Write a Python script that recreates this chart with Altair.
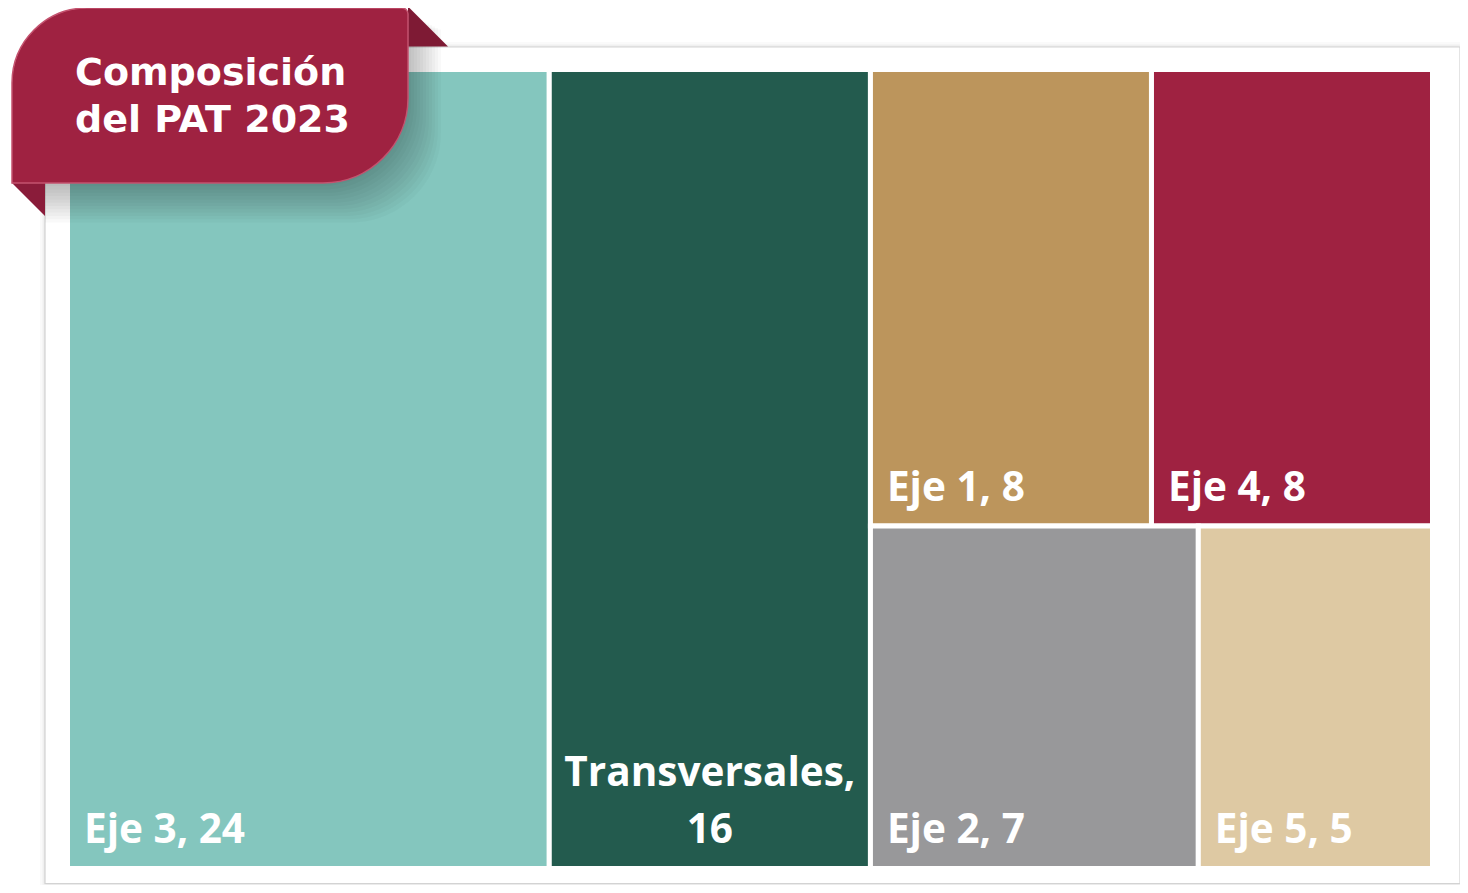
import altair as alt
import pandas as pd

# ---- data ----
names = ["Eje 3", "Transversales", "Eje 1", "Eje 4", "Eje 2", "Eje 5"]
values = [24, 16, 8, 8, 7, 5]
colors = ["#84C6BE", "#235B4E", "#BC955C", "#9F2241", "#98989A", "#DEC9A3"]
title_lines = ["Composición", "del PAT 2023"]

# treemap arrangement: columns -> rows -> items (indices into names)
columns = [[[0]], [[1]], [[2, 3], [4, 5]]]

total = sum(values)
X_RANGE = [59.5, 1424.5]
Y_RANGE = [61.5, 860.5]
px_per_unit = (X_RANGE[1] - X_RANGE[0]) / total

cells = []
cx = 0.0
for col in columns:
    col_sum = sum(values[i] for row in col for i in row)
    cy = 0.0
    for row in col:
        row_sum = sum(values[i] for i in row)
        h = row_sum / col_sum
        rx = cx
        for i in row:
            w = col_sum * values[i] / row_sum
            label = f"{names[i]}, {values[i]}"
            cell_px = w * px_per_unit
            wrap = len(label) * 0.55 * 41 > cell_px - 30
            cells.append(dict(name=names[i], value=values[i], color=colors[i],
                              x0=rx, x1=rx + w, xc=rx + w / 2, y0=cy, y1=cy + h,
                              label=label, line1=f"{names[i]},", line2=str(values[i]),
                              wrap=wrap))
            rx += w
        cy += h
    cx += col_sum

df = pd.DataFrame(cells)
one = pd.DataFrame({"a": [0]})

xs = alt.Scale(domain=[0, total], range=X_RANGE)
ys = alt.Scale(domain=[0, 1], range=Y_RANGE)

# ---- card ----
card_shadows = [
    alt.Chart(one).mark_rect(color="#000000", opacity=0.02, cornerRadius=3).encode(
        x=alt.value(37 - k), x2=alt.value(1452 + k), y=alt.value(39 - k), y2=alt.value(876 + k))
    for k in (1, 2, 3, 5)
]
card = alt.Chart(one).mark_rect(color="white", stroke="#d3d3d3", strokeWidth=1.2).encode(
    x=alt.value(37), x2=alt.value(1452), y=alt.value(39), y2=alt.value(875.5))

# ---- treemap ----
rects = alt.Chart(df).mark_rect(stroke="white", strokeWidth=5).encode(
    x=alt.X("x0:Q", scale=xs, axis=None),
    x2="x1:Q",
    y=alt.Y("y0:Q", scale=ys, axis=None),
    y2="y1:Q",
    color=alt.Color("color:N", scale=None, legend=None),
)

font = "Open Sans"
fs = 40.5
lab_single = alt.Chart(df).transform_filter("!datum.wrap").mark_text(
    font=font, fontSize=fs, fontWeight="bold", color="white", align="left",
    baseline="alphabetic", dx=16.5, dy=-25.5).encode(
    x=alt.X("x0:Q", scale=xs, axis=None), y=alt.Y("y1:Q", scale=ys, axis=None), text="label:N")
lab_w1 = alt.Chart(df).transform_filter("datum.wrap").mark_text(
    font=font, fontSize=fs, fontWeight="bold", color="white", align="center",
    baseline="alphabetic", dy=-82.5).encode(
    x=alt.X("xc:Q", scale=xs, axis=None), y=alt.Y("y1:Q", scale=ys, axis=None), text="line1:N")
lab_w2 = alt.Chart(df).transform_filter("datum.wrap").mark_text(
    font=font, fontSize=fs, fontWeight="bold", color="white", align="center",
    baseline="alphabetic", dy=-25.5).encode(
    x=alt.X("xc:Q", scale=xs, axis=None), y=alt.Y("y1:Q", scale=ys, axis=None), text="line2:N")

# ---- badge ----
badge_shadows = [
    alt.Chart(one).mark_rect(color="#000000", opacity=0.025, cornerRadiusTopLeft=75,
                             cornerRadiusBottomRight=90).encode(
        x=alt.value(37), x2=alt.value(398 + o), y=alt.value(4 + o * 0.5), y2=alt.value(176 + o * 1.1))
    for o in range(2, 38, 3)
]
tri_top = alt.Chart(one).mark_point(shape="M-1,-1L1,1L-1,1Z", filled=True, opacity=1,
                                    color="#7E1A34", size=1600, strokeWidth=0).encode(
    x=alt.value(420), y=alt.value(18.5))
tri_bot = alt.Chart(one).mark_point(shape="M-1,-1L1,-1L1,1Z", filled=True, opacity=1,
                                    color="#8A1C3A", size=1089, strokeWidth=0).encode(
    x=alt.value(20.5), y=alt.value(191.5))
badge = alt.Chart(one).mark_rect(color="#9F2241", cornerRadiusTopLeft=75, cornerRadiusBottomRight=85,
                                 cornerRadiusTopRight=6, stroke="#C4536F", strokeWidth=1.5).encode(
    x=alt.value(4), x2=alt.value(400), y=alt.value(0), y2=alt.value(175))
title_df = pd.DataFrame({"t": title_lines, "i": [0, 1]})
title1 = alt.Chart(title_df).transform_filter("datum.i == 0").mark_text(
    font="DejaVu Sans", fontSize=38, fontWeight="bold", color="white", align="left",
    baseline="alphabetic").encode(x=alt.value(67), y=alt.value(77), text="t:N")
title2 = alt.Chart(title_df).transform_filter("datum.i == 1").mark_text(
    font="DejaVu Sans", fontSize=38, fontWeight="bold", color="white", align="left",
    baseline="alphabetic").encode(x=alt.value(67), y=alt.value(124), text="t:N")

chart = alt.layer(
    *card_shadows, card, rects, lab_single, lab_w1, lab_w2,
    *badge_shadows, tri_top, tri_bot, badge, title1, title2
).properties(
    width=1452, height=877, padding=0, background="white",
    autosize=alt.AutoSizeParams(type="none"),
).configure_view(strokeWidth=0)

chart.save("out.html", embed_options={"renderer": "svg", "actions": False})
